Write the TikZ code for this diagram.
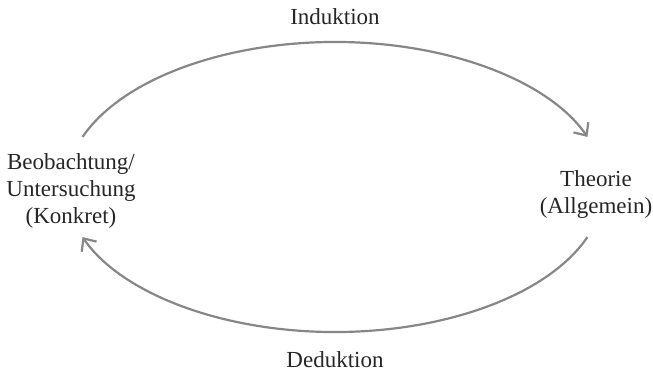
\documentclass[tikz,border=0pt]{standalone}
\usepackage{fontspec}
\setmainfont{Liberation Serif}
\usetikzlibrary{arrows.meta,calc}
\definecolor{arcgray}{RGB}{135,135,135}
\tikzset{
  lbl/.style={font=\fontsize{23}{27}\selectfont, inner sep=0pt, align=center, text=black!85},
  cyc/.style={draw=arcgray, line width=2.2pt, -{Straight Barb[length=10pt,width=18pt,line width=2.2pt]}}
}
\begin{document}
\begin{tikzpicture}[x=1pt,y=1pt]
\useasboundingbox (0,0) rectangle (653,373);
\coordinate (C) at (335,186);
\node[lbl, anchor=base] (ind) at (335,348) {Induktion};
\node[lbl, anchor=base] (ded) at (335,6) {Deduktion};
\node[lbl] (obs) at (71,182) {Beobachtung/\\Untersuchung\\(Konkret)};
\node[lbl] (theo) at (596,178) {Theorie\\(Allgemein)};
\coordinate (t1) at ($(C)+(159.8:269 and 145)$);
\coordinate (b1) at ($(C)+(-20.2:269 and 145)$);
\draw[cyc] (t1) arc[start angle=159.8, end angle=20.2, x radius=269, y radius=145];
\draw[cyc] (b1) arc[start angle=-20.2, end angle=-159.8, x radius=269, y radius=145];
\end{tikzpicture}
\end{document}
